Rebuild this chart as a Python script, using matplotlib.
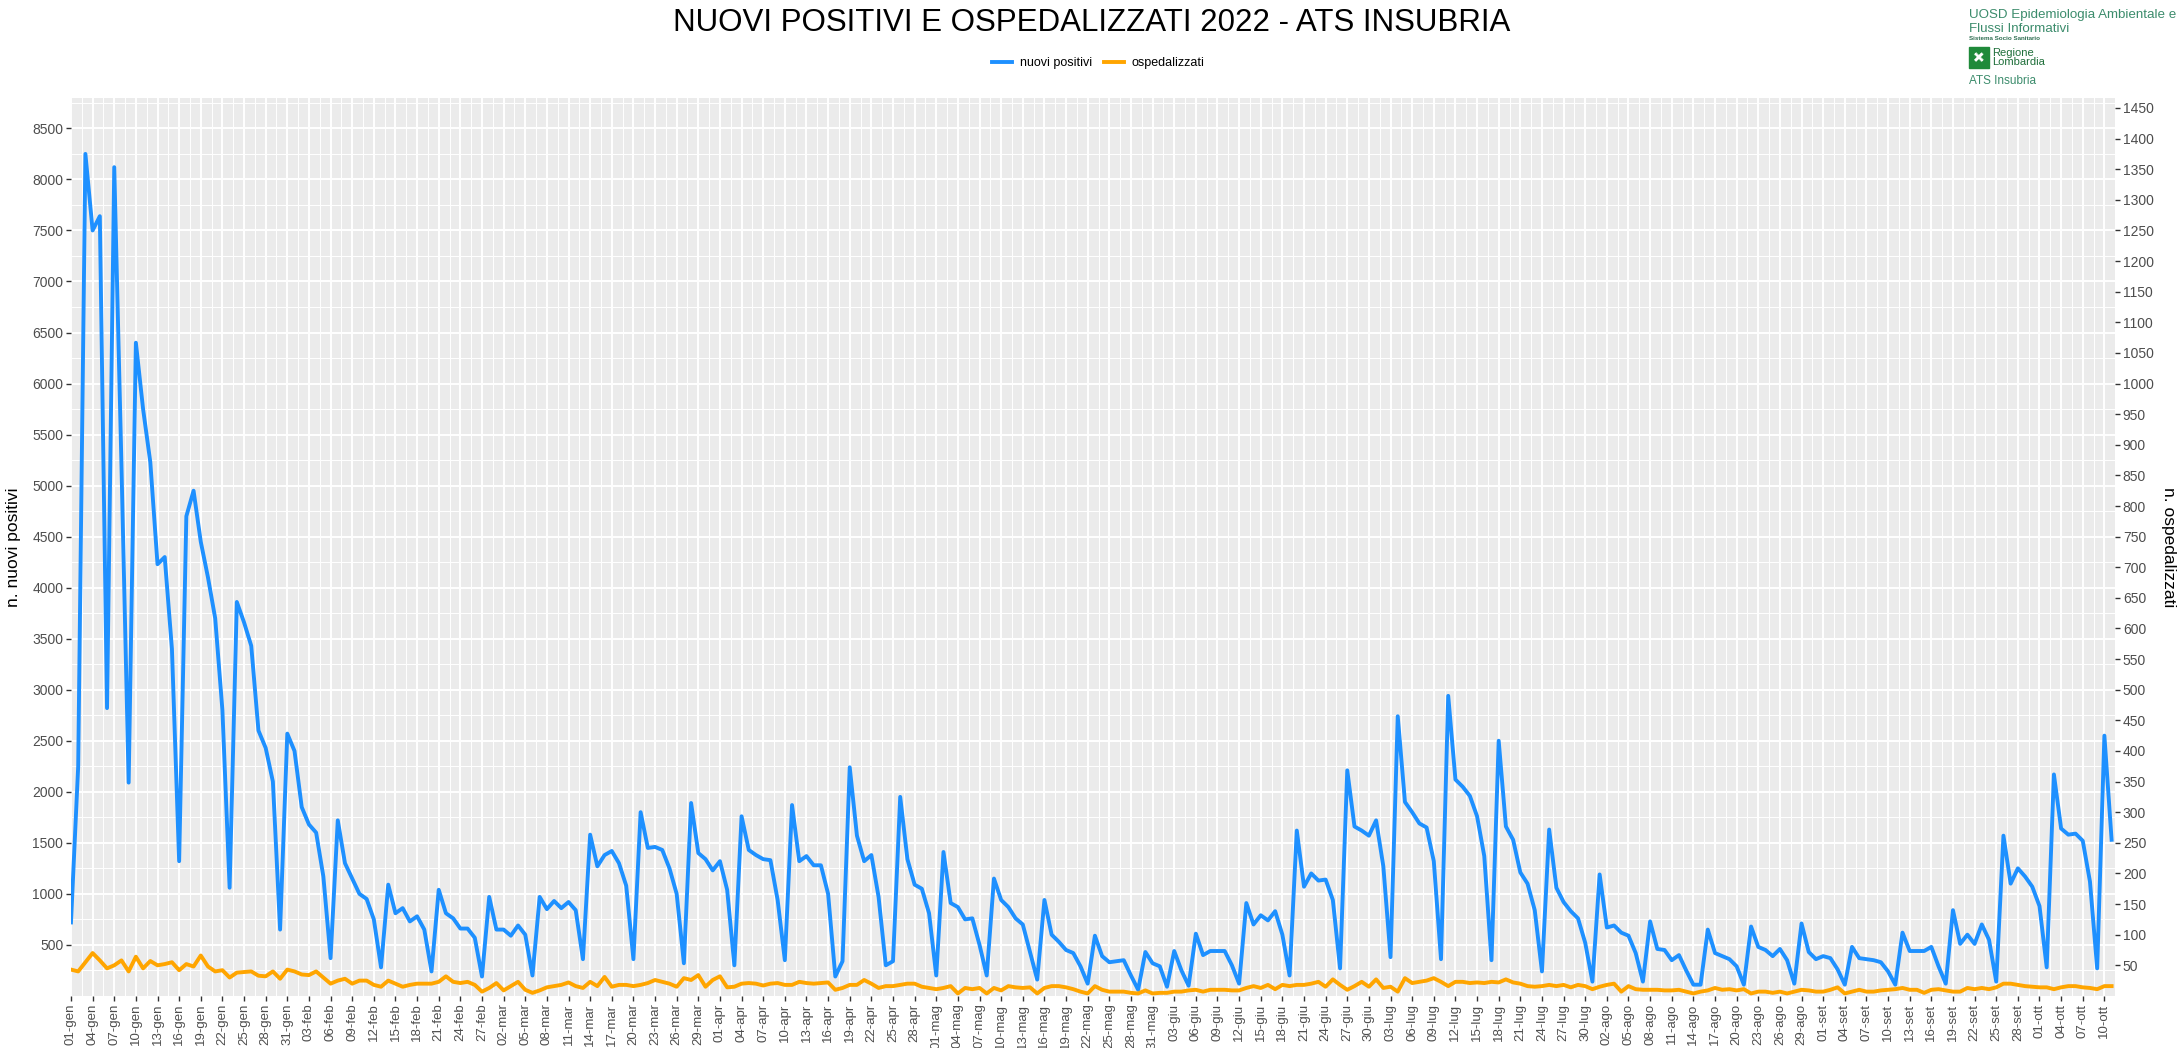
import matplotlib
matplotlib.use("Agg")
import matplotlib.pyplot as plt
import matplotlib.patches as mpatches
from matplotlib.lines import Line2D
from matplotlib.ticker import FixedLocator
import numpy as np
import pandas as pd

plt.rcParams['font.family'] = ['Liberation Sans', 'DejaVu Sans']

# dati giornalieri dal 01-gen-2022 al 11-ott-2022
inizio = "2022-01-01"
mesi_it = ['gen', 'feb', 'mar', 'apr', 'mag', 'giu', 'lug', 'ago', 'set', 'ott', 'nov', 'dic']

nuovi_positivi = [
    # gennaio
    720, 2250, 8250, 7500, 7640, 2820, 8120, 5200, 2090, 6400, 5750, 5230, 4230, 4300, 3400, 1320,
    4700, 4950, 4450, 4100, 3700, 2800, 1060, 3860, 3660, 3430, 2600, 2430, 2100, 650, 2570,
    # febbraio
    2400, 1850, 1680, 1600, 1170, 370, 1720, 1300, 1150, 1000, 950, 750, 280, 1090, 810, 860,
    730, 780, 650, 240, 1040, 810, 760, 660, 660, 570, 190, 970,
    # marzo
    650, 650, 590, 690, 600, 200, 970, 850, 930, 860, 920, 840, 360, 1580, 1270, 1380,
    1420, 1300, 1080, 360, 1800, 1450, 1460, 1430, 1250, 1000, 320, 1890, 1400, 1340, 1230,
    # aprile
    1320, 1040, 300, 1760, 1430, 1380, 1340, 1330, 940, 350, 1870, 1320, 1370, 1280, 1280,
    1000, 190, 340, 2240, 1570, 1320, 1380, 970, 300, 340, 1950, 1340, 1090, 1050, 810,
    # maggio
    200, 1410, 910, 870, 750, 760, 500, 200, 1150, 940, 870, 760, 700, 430, 160, 940,
    600, 530, 450, 420, 290, 120, 590, 390, 330, 340, 350, 200, 60, 430, 320,
    # giugno
    290, 90, 440, 250, 100, 610, 400, 440, 440, 440, 300, 120, 910, 700, 790,
    740, 830, 600, 200, 1620, 1070, 1200, 1130, 1140, 940, 270, 2210, 1660, 1620, 1570,
    # luglio
    1720, 1270, 380, 2740, 1900, 1800, 1690, 1650, 1320, 360, 2940, 2120, 2050, 1960, 1760, 1370,
    350, 2500, 1660, 1530, 1210, 1100, 840, 240, 1630, 1060, 920, 830, 760, 520, 140,
    # agosto
    1190, 670, 690, 620, 590, 420, 140, 730, 460, 450, 350, 400, 250, 110, 110, 650,
    420, 390, 360, 290, 110, 680, 480, 450, 390, 460, 350, 120, 710, 430, 360,
    # settembre
    390, 370, 260, 110, 480, 370, 360, 350, 330, 240, 110, 620, 440, 440, 440,
    480, 290, 120, 840, 510, 600, 510, 700, 550, 140, 1570, 1100, 1250, 1170, 1070,
    # ottobre
    880, 280, 2170, 1640, 1580, 1590, 1520, 1120, 270, 2550, 1530,
]

ospedalizzati = [
    # gennaio
    43, 40, 55, 70, 58, 45, 50, 58, 40, 64, 45, 57, 50, 52, 55, 42,
    52, 48, 66, 48, 40, 42, 30, 38, 39, 40, 33, 32, 40, 28, 43,
    # febbraio
    40, 35, 34, 40, 30, 20, 25, 28, 20, 25, 25, 18, 15, 25, 20, 15,
    18, 20, 20, 20, 23, 32, 23, 21, 23, 18, 7, 13,
    # marzo
    21, 9, 16, 23, 10, 5, 9, 14, 16, 18, 22, 16, 13, 23, 16, 31,
    15, 18, 18, 16, 18, 21, 26, 23, 20, 15, 29, 26, 34, 15, 26,
    # aprile
    32, 14, 15, 20, 21, 20, 17, 20, 21, 18, 18, 23, 21, 20, 21,
    22, 10, 13, 18, 18, 26, 20, 13, 16, 16, 18, 20, 20, 15, 13,
    # maggio
    11, 13, 16, 4, 13, 11, 13, 4, 13, 9, 16, 14, 13, 14, 4, 13,
    16, 16, 14, 11, 7, 4, 16, 10, 7, 7, 7, 5, 4, 9, 4,
    # giugno
    5, 5, 7, 7, 9, 10, 7, 10, 10, 10, 9, 9, 13, 16, 13,
    18, 11, 18, 16, 18, 18, 20, 23, 15, 27, 18, 10, 16, 23, 15,
    # luglio
    27, 13, 15, 7, 29, 21, 23, 25, 29, 23, 16, 23, 23, 21, 22, 21,
    23, 22, 27, 22, 20, 16, 15, 16, 18, 16, 18, 14, 18, 16, 11,
    # agosto
    15, 18, 20, 7, 16, 11, 10, 10, 10, 9, 9, 10, 7, 4, 7, 9,
    13, 10, 11, 9, 11, 4, 7, 7, 5, 7, 4, 7, 10, 9, 7,
    # settembre
    7, 10, 14, 4, 7, 10, 7, 7, 9, 10, 11, 13, 10, 10, 5,
    10, 11, 9, 7, 7, 13, 11, 13, 11, 14, 20, 20, 18, 16, 15,
    # ottobre
    14, 14, 11, 14, 16, 16, 14, 13, 11, 16, 16,
]

fattore = 6  # asse secondario = asse primario / 6
yticks_sx = list(range(500, 9000, 500))
yticks_dx = list(range(50, 1500, 50))

date = pd.date_range(inizio, periods=len(nuovi_positivi), freq="D")
giorni = np.arange(len(date))
etichette = [f"{d.day:02d}-{mesi_it[d.month - 1]}" for d in date]

BLU = '#1E90FF'
ARANCIO = '#FFA500'
GRIGIO_TXT = '#4D4D4D'

fig = plt.figure(figsize=(21.84, 10.48), dpi=100)
ax = fig.add_axes([0.0325, 0.0497, 0.936, 0.857])
ax.set_facecolor('#EBEBEB')
for s in ax.spines.values():
    s.set_visible(False)

ax.plot(giorni, nuovi_positivi, color=BLU, lw=2.8, zorder=3, solid_joinstyle='round')
ax.plot(giorni, np.array(ospedalizzati) * fattore, color=ARANCIO, lw=2.8, zorder=3,
        solid_joinstyle='round')

ax.set_xlim(0, len(giorni) - 0.5)
ax.set_ylim(0, 8800)

# griglia stile ggplot
ax.xaxis.set_major_locator(FixedLocator(giorni[::3]))
ax.xaxis.set_minor_locator(FixedLocator(giorni[::3][:-1] + 1.5))
ax.set_xticklabels(etichette[::3], rotation=90, fontsize=9.5, color=GRIGIO_TXT)
ax.yaxis.set_major_locator(FixedLocator(yticks_sx))
ax.yaxis.set_minor_locator(FixedLocator(np.arange(250, 8800, 500)))
ax.set_yticklabels([str(v) for v in yticks_sx], fontsize=10, color=GRIGIO_TXT)
ax.grid(which='major', color='white', lw=1.4, zorder=0)
ax.grid(which='minor', color='white', lw=0.7, zorder=0)
ax.set_axisbelow(True)
ax.tick_params(which='major', length=3.5, width=1, color='#333333', pad=2)
ax.tick_params(which='minor', length=0)

ax.set_ylabel('n. nuovi positivi', fontsize=12.5, labelpad=8)

ax2 = ax.secondary_yaxis('right', functions=(lambda v: v / fattore, lambda v: v * fattore))
ax2.set_yticks(yticks_dx)
ax2.set_yticklabels([str(v) for v in yticks_dx], fontsize=10, color=GRIGIO_TXT)
ax2.tick_params(length=3.5, width=1, color='#333333', pad=2)
for s in ax2.spines.values():
    s.set_visible(False)
ax2.set_ylabel('n. ospedalizzati', fontsize=12.5, rotation=270, labelpad=16)

fig.text(0.5, 0.992, 'NUOVI POSITIVI E OSPEDALIZZATI 2022 - ATS INSUBRIA',
         ha='center', va='top', fontsize=22.5)

# legenda
maniglie = [Line2D([0], [0], color=BLU, lw=2.8), Line2D([0], [0], color=ARANCIO, lw=2.8)]
leg = fig.legend(maniglie, ['nuovi positivi', 'ospedalizzati'], loc='center',
                 bbox_to_anchor=(0.503, 0.940), ncol=2, frameon=False, fontsize=9,
                 handlelength=1.6, columnspacing=1.0, handletextpad=0.6)

# logo in alto a destra
VERDE = '#3C8C6C'
x0 = 0.9015
fig.text(x0, 0.986, 'UOSD Epidemiologia Ambientale e', color=VERDE, fontsize=9.6,
         ha='left', va='center')
fig.text(x0, 0.972, 'Flussi Informativi', color=VERDE, fontsize=9.6, ha='left', va='center')
fig.text(x0, 0.963, 'Sistema Socio Sanitario', color='#2F6F52', fontsize=4.5,
         ha='left', va='center', weight='bold')
fig.patches.append(mpatches.Rectangle((x0, 0.935), 0.0092, 0.02, transform=fig.transFigure,
                                      color='#1F8A3A', zorder=5))
fig.text(x0 + 0.0046, 0.945, '✚', color='white', fontsize=10.5, ha='center', va='center',
         rotation=45, zorder=6, family='DejaVu Sans')
fig.text(x0 + 0.0108, 0.945, 'Regione\nLombardia', color='#1F6F3A', fontsize=8, ha='left',
         va='center', linespacing=0.85)
fig.text(x0, 0.923, 'ATS Insubria', color=VERDE, fontsize=8.5, ha='left', va='center')

fig.savefig('out.png', dpi=100)
